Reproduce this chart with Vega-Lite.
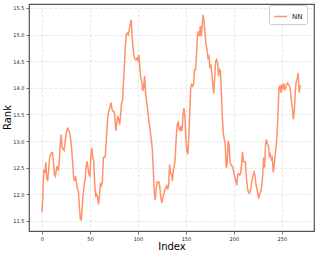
{
  "$schema": "https://vega.github.io/schema/vega-lite/v6.json",
  "width": 285,
  "height": 227,
  "autosize": {"type": "none"},
  "padding": {"left": 29, "top": 4, "right": 5, "bottom": 24},
  "background": "white",
  "config": {
    "font": "DejaVu Sans",
    "view": {"stroke": "#555", "strokeWidth": 1.2},
    "axis": {
      "domain": false,
      "grid": true,
      "gridColor": "#d8d8d8",
      "gridDash": [3, 2],
      "gridWidth": 0.6,
      "tickColor": "#333",
      "tickSize": 3,
      "tickWidth": 0.7,
      "labelFontSize": 5,
      "labelColor": "#222",
      "labelPadding": 2,
      "titleFontSize": 10,
      "titleFontWeight": "normal",
      "titleColor": "#000"
    }
  },
  "data": {"values": [
    {"i":0,"v":11.66},{"i":1,"v":12.0},{"i":2,"v":12.47},{"i":3,"v":12.4},{"i":4,"v":12.6},{"i":5,"v":12.31},{"i":6,"v":12.25},{"i":7,"v":12.47},{"i":8,"v":12.69},{"i":9,"v":12.75},
    {"i":10,"v":12.78},{"i":11,"v":12.78},{"i":12,"v":12.6},{"i":13,"v":12.37},{"i":14,"v":12.34},{"i":15,"v":12.47},{"i":16,"v":12.53},{"i":17,"v":12.44},{"i":18,"v":12.6},{"i":19,"v":12.94},
    {"i":20,"v":13.12},{"i":21,"v":12.87},{"i":22,"v":12.86},{"i":23,"v":12.83},{"i":24,"v":12.94},{"i":25,"v":13.12},{"i":26,"v":13.22},{"i":27,"v":13.24},{"i":28,"v":13.19},{"i":29,"v":13.14},
    {"i":30,"v":13.03},{"i":31,"v":12.84},{"i":32,"v":12.6},{"i":33,"v":12.31},{"i":34,"v":12.25},{"i":35,"v":12.34},{"i":36,"v":12.22},{"i":37,"v":12.09},{"i":38,"v":12.06},{"i":39,"v":11.78},
    {"i":40,"v":11.53},{"i":41,"v":11.52},{"i":42,"v":11.76},{"i":43,"v":12.0},{"i":44,"v":12.19},{"i":45,"v":12.28},{"i":46,"v":12.5},{"i":47,"v":12.62},{"i":48,"v":12.5},{"i":49,"v":12.37},
    {"i":50,"v":12.34},{"i":51,"v":12.75},{"i":52,"v":12.87},{"i":53,"v":12.69},{"i":54,"v":12.62},{"i":55,"v":12.19},{"i":56,"v":11.97},{"i":57,"v":12.0},{"i":58,"v":11.94},{"i":59,"v":11.81},
    {"i":60,"v":12.0},{"i":61,"v":12.19},{"i":62,"v":12.16},{"i":63,"v":12.25},{"i":64,"v":12.69},{"i":65,"v":12.69},{"i":66,"v":12.72},{"i":67,"v":13.0},{"i":68,"v":13.31},{"i":69,"v":13.5},
    {"i":70,"v":13.58},{"i":71,"v":13.65},{"i":72,"v":13.72},{"i":73,"v":13.6},{"i":74,"v":13.56},{"i":75,"v":13.56},{"i":76,"v":13.44},{"i":77,"v":13.19},{"i":78,"v":13.34},{"i":79,"v":13.47},
    {"i":80,"v":13.4},{"i":81,"v":13.31},{"i":82,"v":13.5},{"i":83,"v":13.72},{"i":84,"v":13.75},{"i":85,"v":14.12},{"i":86,"v":14.44},{"i":87,"v":14.81},{"i":88,"v":15.0},{"i":89,"v":15.03},
    {"i":90,"v":15.0},{"i":91,"v":15.09},{"i":92,"v":15.2},{"i":93,"v":15.28},{"i":94,"v":14.97},{"i":95,"v":14.72},{"i":96,"v":14.6},{"i":97,"v":14.53},{"i":98,"v":14.53},{"i":99,"v":14.56},
    {"i":100,"v":14.5},{"i":101,"v":14.62},{"i":102,"v":14.37},{"i":103,"v":14.19},{"i":104,"v":14.12},{"i":105,"v":13.94},{"i":106,"v":14.0},{"i":107,"v":14.22},{"i":108,"v":13.9},{"i":109,"v":13.75},
    {"i":110,"v":13.62},{"i":111,"v":13.44},{"i":112,"v":13.31},{"i":113,"v":13.16},{"i":114,"v":13.03},{"i":115,"v":12.84},{"i":116,"v":12.47},{"i":117,"v":12.05},{"i":118,"v":11.89},{"i":119,"v":12.1},
    {"i":120,"v":12.23},{"i":121,"v":12.23},{"i":122,"v":12.23},{"i":123,"v":12.1},{"i":124,"v":11.92},{"i":125,"v":11.84},{"i":126,"v":11.94},{"i":127,"v":12.0},{"i":128,"v":12.09},{"i":129,"v":12.12},
    {"i":130,"v":12.16},{"i":131,"v":12.09},{"i":132,"v":12.16},{"i":133,"v":12.56},{"i":134,"v":12.4},{"i":135,"v":12.37},{"i":136,"v":12.25},{"i":137,"v":12.47},{"i":138,"v":12.53},{"i":139,"v":12.72},
    {"i":140,"v":13.09},{"i":141,"v":13.31},{"i":142,"v":13.35},{"i":143,"v":13.22},{"i":144,"v":13.2},{"i":145,"v":13.28},{"i":146,"v":13.19},{"i":147,"v":13.5},{"i":148,"v":13.62},{"i":149,"v":13.44},
    {"i":150,"v":13.06},{"i":151,"v":12.81},{"i":152,"v":12.75},{"i":153,"v":13.06},{"i":154,"v":13.5},{"i":155,"v":14.0},{"i":156,"v":14.06},{"i":157,"v":14.03},{"i":158,"v":14.06},{"i":159,"v":14.34},
    {"i":160,"v":14.34},{"i":161,"v":14.6},{"i":162,"v":14.95},{"i":163,"v":15.06},{"i":164,"v":14.97},{"i":165,"v":15.16},{"i":166,"v":14.97},{"i":167,"v":15.19},{"i":168,"v":15.37},{"i":169,"v":15.22},
    {"i":170,"v":15.0},{"i":171,"v":14.81},{"i":172,"v":14.72},{"i":173,"v":14.56},{"i":174,"v":14.59},{"i":175,"v":14.37},{"i":176,"v":14.44},{"i":177,"v":14.28},{"i":178,"v":14.06},{"i":179,"v":13.89},
    {"i":180,"v":14.19},{"i":181,"v":14.5},{"i":182,"v":14.53},{"i":183,"v":14.47},{"i":184,"v":14.22},{"i":185,"v":14.34},{"i":186,"v":14.31},{"i":187,"v":13.9},{"i":188,"v":13.45},{"i":189,"v":13.14},
    {"i":190,"v":13.03},{"i":191,"v":12.94},{"i":192,"v":12.5},{"i":193,"v":12.56},{"i":194,"v":13.0},{"i":195,"v":12.94},{"i":196,"v":12.6},{"i":197,"v":12.56},{"i":198,"v":12.53},{"i":199,"v":12.5},
    {"i":200,"v":12.4},{"i":201,"v":12.33},{"i":202,"v":12.25},{"i":203,"v":12.17},{"i":204,"v":12.37},{"i":205,"v":12.39},{"i":206,"v":12.36},{"i":207,"v":12.39},{"i":208,"v":12.55},{"i":209,"v":12.8},
    {"i":210,"v":12.61},{"i":211,"v":12.61},{"i":212,"v":12.61},{"i":213,"v":12.33},{"i":214,"v":12.14},{"i":215,"v":12.05},{"i":216,"v":12.02},{"i":217,"v":12.05},{"i":218,"v":12.14},{"i":219,"v":12.27},
    {"i":220,"v":12.35},{"i":221,"v":12.42},{"i":222,"v":12.36},{"i":223,"v":12.2},{"i":224,"v":12.1},{"i":225,"v":12.0},{"i":226,"v":11.92},{"i":227,"v":12.02},{"i":228,"v":12.05},{"i":229,"v":12.15},
    {"i":230,"v":12.34},{"i":231,"v":12.69},{"i":232,"v":12.5},{"i":233,"v":12.94},{"i":234,"v":13.03},{"i":235,"v":12.94},{"i":236,"v":12.91},{"i":237,"v":12.72},{"i":238,"v":12.75},{"i":239,"v":12.66},
    {"i":240,"v":12.69},{"i":241,"v":12.41},{"i":242,"v":12.56},{"i":243,"v":12.72},{"i":244,"v":12.91},{"i":245,"v":13.09},{"i":246,"v":13.53},{"i":247,"v":14.0},{"i":248,"v":14.03},{"i":249,"v":13.91},
    {"i":250,"v":14.06},{"i":251,"v":13.97},{"i":252,"v":14.09},{"i":253,"v":13.97},{"i":254,"v":14.0},{"i":255,"v":14.06},{"i":256,"v":14.09},{"i":257,"v":14.06},{"i":258,"v":14.03},{"i":259,"v":13.94},
    {"i":260,"v":13.72},{"i":261,"v":13.62},{"i":262,"v":13.41},{"i":263,"v":13.56},{"i":264,"v":13.94},{"i":265,"v":14.12},{"i":266,"v":14.16},{"i":267,"v":14.28},{"i":268,"v":13.91},{"i":269,"v":14.03},
    {"i":270,"v":14.04}
  ]},
  "mark": {"type": "line", "strokeWidth": 1.5, "opacity": 0.85},
  "encoding": {
    "x": {
      "field": "i", "type": "quantitative",
      "scale": {"domain": [-13.5, 283.5], "nice": false, "zero": false},
      "axis": {"title": "Index", "values": [0, 50, 100, 150, 200, 250], "titlePadding": 0}
    },
    "y": {
      "field": "v", "type": "quantitative",
      "scale": {"domain": [11.31, 15.575], "nice": false, "zero": false},
      "axis": {"title": "Rank", "values": [11.5, 12.0, 12.5, 13.0, 13.5, 14.0, 14.5, 15.0, 15.5], "format": ".1f", "titleX": -17, "titleY": 113}
    },
    "color": {
      "datum": "NN",
      "scale": {"domain": ["NN"], "range": ["#ff7f50"]},
      "legend": {
        "title": null,
        "orient": "none",
        "legendX": 240,
        "legendY": 1,
        "symbolType": "stroke",
        "symbolSize": 169,
        "symbolStrokeWidth": 1.5,
        "symbolOpacity": 0.85,
        "labelFontSize": 7,
        "labelColor": "#222",
        "padding": 4,
        "fillColor": "white",
        "strokeColor": "#ccc",
        "cornerRadius": 2
      }
    }
  }
}
